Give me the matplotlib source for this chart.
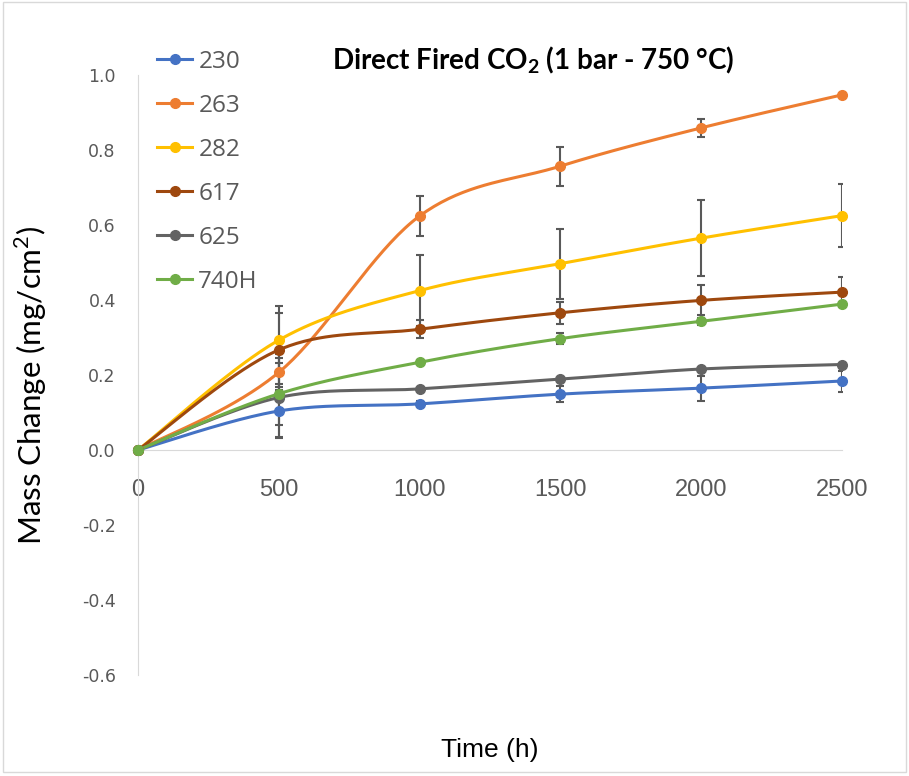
import numpy as np
import matplotlib
matplotlib.use("Agg")
import matplotlib.pyplot as plt
from matplotlib.patches import Rectangle

# data
time_h = [0, 500, 1000, 1500, 2000, 2500]
labels = ['230', '263', '282', '617', '625', '740H']
colors = ['#4472C4', '#ED7D31', '#FFC000', '#9E480E', '#636363', '#70AD47']

mass_230 = [0, 0.104, 0.123, 0.149, 0.165, 0.184]
mass_263 = [0, 0.207, 0.624, 0.757, 0.859, 0.947]
mass_282 = [0, 0.293, 0.425, 0.497, 0.565, 0.625]
mass_617 = [0, 0.267, 0.322, 0.366, 0.399, 0.421]
mass_625 = [0, 0.140, 0.163, 0.189, 0.216, 0.228]
mass_740H = [0, 0.150, 0.234, 0.297, 0.343, 0.389]

err_230 = [0, 0.071, 0.007, 0.022, 0.033, 0.028]
err_263 = [0, 0.048, 0.054, 0.052, 0.025, 0.0]
err_282 = [0, 0.091, 0.094, 0.093, 0.102, 0.084]
err_617 = [0, 0.099, 0.024, 0.030, 0.040, 0.040]
err_625 = [0, 0.105, 0.0, 0.0, 0.0, 0.0]
err_740H = [0, 0.083, 0.005, 0.014, 0.010, 0.0]

series = [mass_230, mass_263, mass_282, mass_617, mass_625, mass_740H]
errors = [err_230, err_263, err_282, err_617, err_625, err_740H]


def smooth(x, y, n=40):
    # Excel-like smoothed line: Catmull-Rom style bezier segments
    p = np.column_stack([x, y]).astype(float)
    pts = np.vstack([p[0], p, p[-1]])
    out = []
    t = np.linspace(0, 1, n)[:, None]
    for i in range(1, len(pts) - 2):
        p0, p1 = pts[i], pts[i + 1]
        c1 = p0 + (pts[i + 1] - pts[i - 1]) / 6
        c2 = p1 - (pts[i + 2] - pts[i]) / 6
        seg = ((1 - t) ** 3) * p0 + 3 * ((1 - t) ** 2) * t * c1 + 3 * (1 - t) * t ** 2 * c2 + t ** 3 * p1
        out.append(seg)
    out = np.vstack(out)
    return out[:, 0], out[:, 1]


plt.rcParams['mathtext.fontset'] = 'custom'
plt.rcParams['mathtext.rm'] = 'Lato'
plt.rcParams['mathtext.bf'] = 'Lato:bold'

fig = plt.figure(figsize=(9.09, 7.76), dpi=100)
ax = fig.add_axes([138 / 909, 1 - 675 / 776, 704 / 909, 600 / 776])

for y, e, c, lab in zip(series, errors, colors, labels):
    ax.errorbar(time_h, y, yerr=e, fmt='none', ecolor='#595959', elinewidth=1.5,
                capsize=3, capthick=1.5, zorder=2)
    sx, sy = smooth(time_h, y)
    ax.plot(sx, sy, color=c, lw=2.2, zorder=3, clip_on=False, solid_capstyle='round')
    ax.plot(time_h, y, 'o', color=c, ms=7, zorder=4, clip_on=False)
    ax.plot([], [], '-o', color=c, lw=2.2, ms=7, label=lab)

ax.set_xlim(0, 2500)
ax.set_ylim(-0.6, 1.0)
ax.set_xticks(time_h)
ax.set_yticks(np.arange(-0.6, 1.01, 0.2))
ax.yaxis.set_major_formatter(matplotlib.ticker.FormatStrFormatter('%.1f'))

for s in ['top', 'right']:
    ax.spines[s].set_visible(False)
ax.spines['bottom'].set_position(('data', 0))
ax.spines['bottom'].set_color('#D9D9D9')
ax.spines['left'].set_color('#D9D9D9')
ax.spines['bottom'].set_zorder(1)
ax.tick_params(axis='both', length=0, colors='#595959')
ax.tick_params(axis='x', pad=21)
ax.tick_params(axis='y', pad=16)
for t in ax.get_xticklabels():
    t.set_family(['Liberation Sans Narrow', 'Liberation Sans'])
    t.set_fontsize(17)
for t in ax.get_yticklabels():
    t.set_family('DejaVu Sans')
    t.set_fontsize(12.5)

ax.set_xlabel('Time (h)', fontsize=19, family=['Liberation Sans Narrow', 'Liberation Sans'])
ax.xaxis.set_label_coords(0.5, -0.105)
ax.set_ylabel('Mass Change (mg/cm$^2$)', fontsize=22.5, family='Lato')
ax.yaxis.set_label_coords(-0.126, 0.482)

fig.text(533 / 909, 1 - 60 / 776, r'Direct Fired CO$\mathbf{_2}$ (1 bar - 750 °C)',
         ha='center', va='center', fontsize=20, fontweight='bold', family='Lato')

leg = ax.legend(loc='upper left', bbox_to_anchor=(157 / 909, 1 - 50 / 776),
                bbox_transform=fig.transFigure, frameon=False,
                handlelength=1.45, handletextpad=0.25, labelspacing=0.82,
                borderpad=0, borderaxespad=0, prop={'family': 'Open Sans', 'size': 17.5})
for t in leg.get_texts():
    t.set_color('#595959')

fig.patches.append(Rectangle((3 / 909, 4 / 776), 903 / 909, 770 / 776, transform=fig.transFigure,
                             fill=False, edgecolor='#D9D9D9', lw=1))

fig.savefig('out.png', dpi=100)
